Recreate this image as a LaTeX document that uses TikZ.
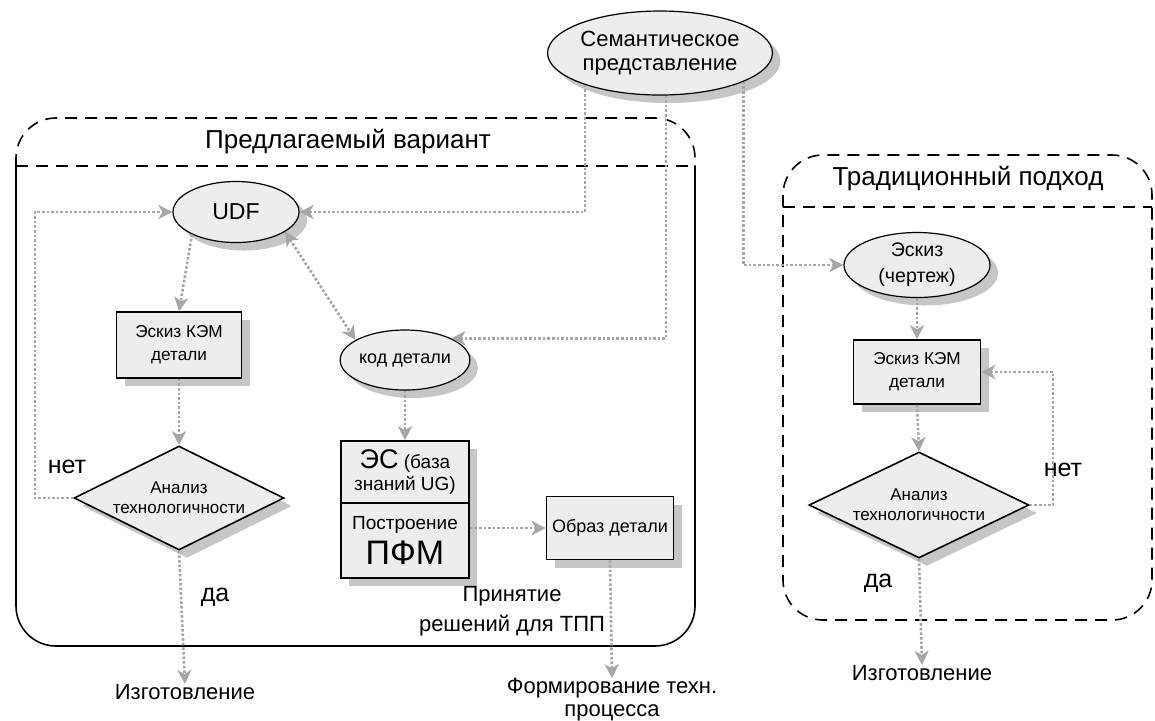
\documentclass[tikz,border=0pt]{standalone}
\usepackage{fontspec}
\setmainfont{Liberation Sans}
\usetikzlibrary{shapes.geometric,shadows,arrows.meta,calc}
\begin{document}
\begin{tikzpicture}[x=0.5pt,y=-0.5pt,
  shd/.style={drop shadow={shadow xshift=4pt,shadow yshift=-4pt,fill=gray!45,opacity=1}},
  box/.style={rectangle,draw=black,line width=0.8pt,fill=gray!14,shd,inner sep=1pt,align=center,font=\fontsize{8.6}{11.5}\selectfont},
  plainbox/.style={rectangle,draw=black,line width=0.8pt,fill=gray!14,inner sep=1pt,align=center,font=\fontsize{9.5}{11}\selectfont},
  oval/.style={ellipse,draw=black,line width=0.6pt,fill=gray!14,shd,inner sep=0pt,align=center},
  dia/.style={diamond,aspect=2,draw=black,line width=0.8pt,fill=gray!14,shd,inner sep=0pt,align=center,font=\fontsize{8.5}{10}\selectfont},
  >={Stealth[length=7pt,width=7pt,inset=2pt,fill=gray!50]},
  arr/.style={draw=gray!70,line width=1.3pt,densely dotted,->},
  lbl/.style={inner sep=0pt,align=center,font=\fontsize{11}{13.5}\selectfont},
  yn/.style={inner sep=0pt,font=\fontsize{12.5}{14}\selectfont},
  title/.style={inner sep=0pt,font=\fontsize{13}{14}\selectfont},
  grp/.style={draw=black,line width=0.8pt,dash pattern=on 6pt off 4pt}
]
\useasboundingbox (0,0) rectangle (1155,720);

% ---- group frames
\draw[grp,rounded corners=20pt] (16,166) -- (16,118) -- (695,118) -- (695,166);
\draw[grp] (16,166) -- (695,166);
\draw[line width=0.8pt,rounded corners=20pt] (16,166) -- (16,646) -- (695,646) -- (695,166);
\node[title] (tprop) at (348,142) {Предлагаемый вариант};

\draw[grp,rounded corners=20pt] (783,155) rectangle (1152,620);
\draw[grp] (783,207) -- (1152,207);
\node[title] (ttrad) at (968,179) {Традиционный подход};

% ---- nodes, left group
\node[oval,minimum width=105pt,minimum height=42pt,font=\fontsize{11}{12}\selectfont] (sem) at (660,53) {Семантическое\\представление};
\node[oval,minimum width=63pt,minimum height=30.5pt,font=\fontsize{11.5}{13}\selectfont] (udf) at (236,212) {UDF};
\node[box,minimum width=62.5pt,minimum height=33pt] (esk1) at (179,345) {Эскиз КЭМ\\детали};
\node[oval,minimum width=63.5pt,minimum height=30pt,font=\fontsize{9}{11}\selectfont] (kod) at (405,360) {код детали};
\node[dia,minimum width=105pt,minimum height=52pt] (dia1) at (179,498) {Анализ\\технологичности};

\fill[gray!45] (349,449) rectangle (477,586);
\node[plainbox,minimum width=64pt,minimum height=31pt] (es1) at (405,472)
  {{\fontsize{13.5}{14}\selectfont ЭС} (база\\знаний UG)};
\node[plainbox,minimum width=64pt,minimum height=37.5pt] (es2) at (405,540.5)
  {Построение\\[3pt]{\fontsize{17}{18}\selectfont ПФМ}};
\node[box,minimum width=63.5pt,minimum height=31.5pt,font=\fontsize{9}{11}\selectfont] (obr) at (610,528) {Образ детали};

% ---- nodes, right group
\node[oval,minimum width=73pt,minimum height=32.5pt,font=\fontsize{9.8}{13}\selectfont] (esk2) at (917,265) {Эскиз\\(чертеж)};
\node[box,minimum width=63.5pt,minimum height=32pt] (esk3) at (917,372) {Эскиз КЭМ\\детали};
\node[dia,minimum width=110pt,minimum height=53pt] (dia2) at (919,505) {Анализ\\технологичности};

% ---- text labels
\node[yn] (net1) at (67,467) {нет};
\node[yn] (da1) at (215,597) {да};
\node[yn] (net2) at (1063,470) {нет};
\node[yn] (da2) at (878,583) {да};
\node[lbl] (izg1) at (185,692) {Изготовление};
\node[lbl] (izg2) at (922,673) {Изготовление};
\node[lbl,font=\fontsize{11}{15}\selectfont] (prin) at (512,611) {Принятие\\решений для ТПП};
\node[lbl,font=\fontsize{11}{11.5}\selectfont] (form) at (612,700) {Формирование техн.\\процесса};

\coordinate (lpa) at (35,400);
\coordinate (lpb) at (1053,440);

% ---- connectors
\draw[arr] (dia1.west) -| (lpa) |- (udf.west);
\draw[arr] (sem.203.6) |- (udf.east);
\draw[arr] (sem.278.1) |- (kod.north east);
\draw[arr] (sem.341.2) |- (esk2.west);
\draw[arr] (udf.207) -- (esk1.north);
\draw[arr,<->] (udf.338.6) -- (kod.158.7);
\draw[arr] (esk1.south) -- (dia1.north);
\draw[arr] (dia1.south) -- (izg1.north);
\draw[arr] (kod.south) -- (es1.north);
\draw[arr] (es2.east |- obr.west) -- (obr.west);
\draw[arr] (obr.south) -- (form.north);

\draw[arr] (esk2.south) -- (esk3.north);
\draw[arr] (esk3.south) -- (dia2.north);
\draw[arr] (dia2.east) -| (lpb) |- (esk3.east);
\draw[arr] (dia2.south) -- (izg2.north);
\end{tikzpicture}
\end{document}
